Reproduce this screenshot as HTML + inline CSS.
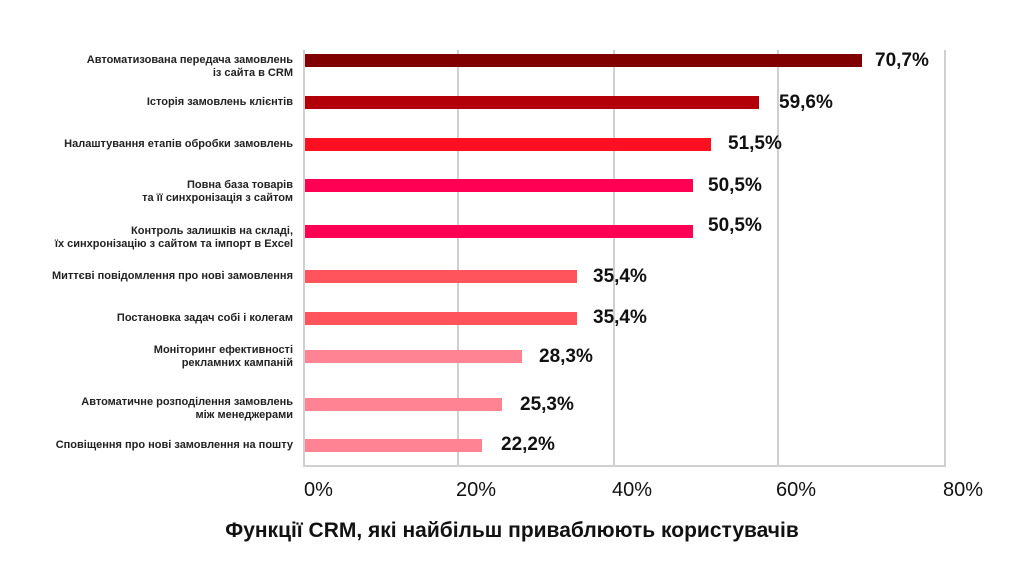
<!DOCTYPE html>
<html><head><meta charset="utf-8"><style>
body{margin:0;width:1024px;height:574px;background:#fff;position:relative;overflow:hidden;font-family:"Liberation Sans","DejaVu Sans",sans-serif;color:#111}
.g{position:absolute;top:50px;height:416px;width:2px;background:#d0d0d0}
.b{position:absolute;left:305px;height:13px}
.l{position:absolute;right:731px;font-size:11px;font-weight:bold;text-align:right;line-height:13px;white-space:nowrap;color:#222}
.v{position:absolute;font-size:19px;font-weight:bold;line-height:20px;color:#111}
.t{position:absolute;top:480px;font-size:20px;line-height:20px;color:#111}
</style></head><body>
<div class="g" style="left:303px"></div>
<div class="g" style="left:457px"></div>
<div class="g" style="left:613px"></div>
<div class="g" style="left:777px"></div>
<div class="g" style="left:944px"></div>
<div style="position:absolute;left:303px;top:465px;width:643px;height:2px;background:#d0d0d0"></div>

<div class="b" style="top:54px;width:557px;background:#800000"></div>
<div class="b" style="top:96px;width:454px;background:#b30008"></div>
<div class="b" style="top:138px;width:406px;background:#ff1020"></div>
<div class="b" style="top:179px;width:388px;background:#ff0055"></div>
<div class="b" style="top:225px;width:388px;background:#ff0055"></div>
<div class="b" style="top:270px;width:272px;background:#ff545c"></div>
<div class="b" style="top:312px;width:272px;background:#ff545c"></div>
<div class="b" style="top:350px;width:217px;background:#ff8392"></div>
<div class="b" style="top:398px;width:197px;background:#ff8392"></div>
<div class="b" style="top:439px;width:177px;background:#ff8392"></div>

<div class="v" style="left:875px;top:51px">70,7%</div>
<div class="v" style="left:779px;top:93px">59,6%</div>
<div class="v" style="left:728px;top:134px">51,5%</div>
<div class="v" style="left:708px;top:176px">50,5%</div>
<div class="v" style="left:708px;top:216px">50,5%</div>
<div class="v" style="left:593px;top:267px">35,4%</div>
<div class="v" style="left:593px;top:308px">35,4%</div>
<div class="v" style="left:539px;top:347px">28,3%</div>
<div class="v" style="left:520px;top:395px">25,3%</div>
<div class="v" style="left:501px;top:435px">22,2%</div>

<div class="l" style="top:54px">Автоматизована передача замовлень<br>із сайта в CRM</div>
<div class="l" style="top:96px">Історія замовлень клієнтів</div>
<div class="l" style="top:138px">Налаштування етапів обробки замовлень</div>
<div class="l" style="top:179px">Повна база товарів<br>та її синхронізація з сайтом</div>
<div class="l" style="top:225px">Контроль залишків на складі,<br>їх синхронізацію з сайтом та імпорт в Excel</div>
<div class="l" style="top:270px">Миттєві повідомлення про нові замовлення</div>
<div class="l" style="top:312px">Постановка задач собі і колегам</div>
<div class="l" style="top:344px">Моніторинг ефективності<br>рекламних кампаній</div>
<div class="l" style="top:396px">Автоматичне розподілення замовлень<br>між менеджерами</div>
<div class="l" style="top:439px">Сповіщення про нові замовлення на пошту</div>

<div class="t" style="left:304px">0%</div>
<div class="t" style="left:456px">20%</div>
<div class="t" style="left:612px">40%</div>
<div class="t" style="left:776px">60%</div>
<div class="t" style="left:943px">80%</div>

<div style="position:absolute;left:0;width:1024px;top:519px;text-align:center;font-size:21px;font-weight:bold;color:#111">Функції CRM, які найбільш приваблюють користувачів</div>
</body></html>
